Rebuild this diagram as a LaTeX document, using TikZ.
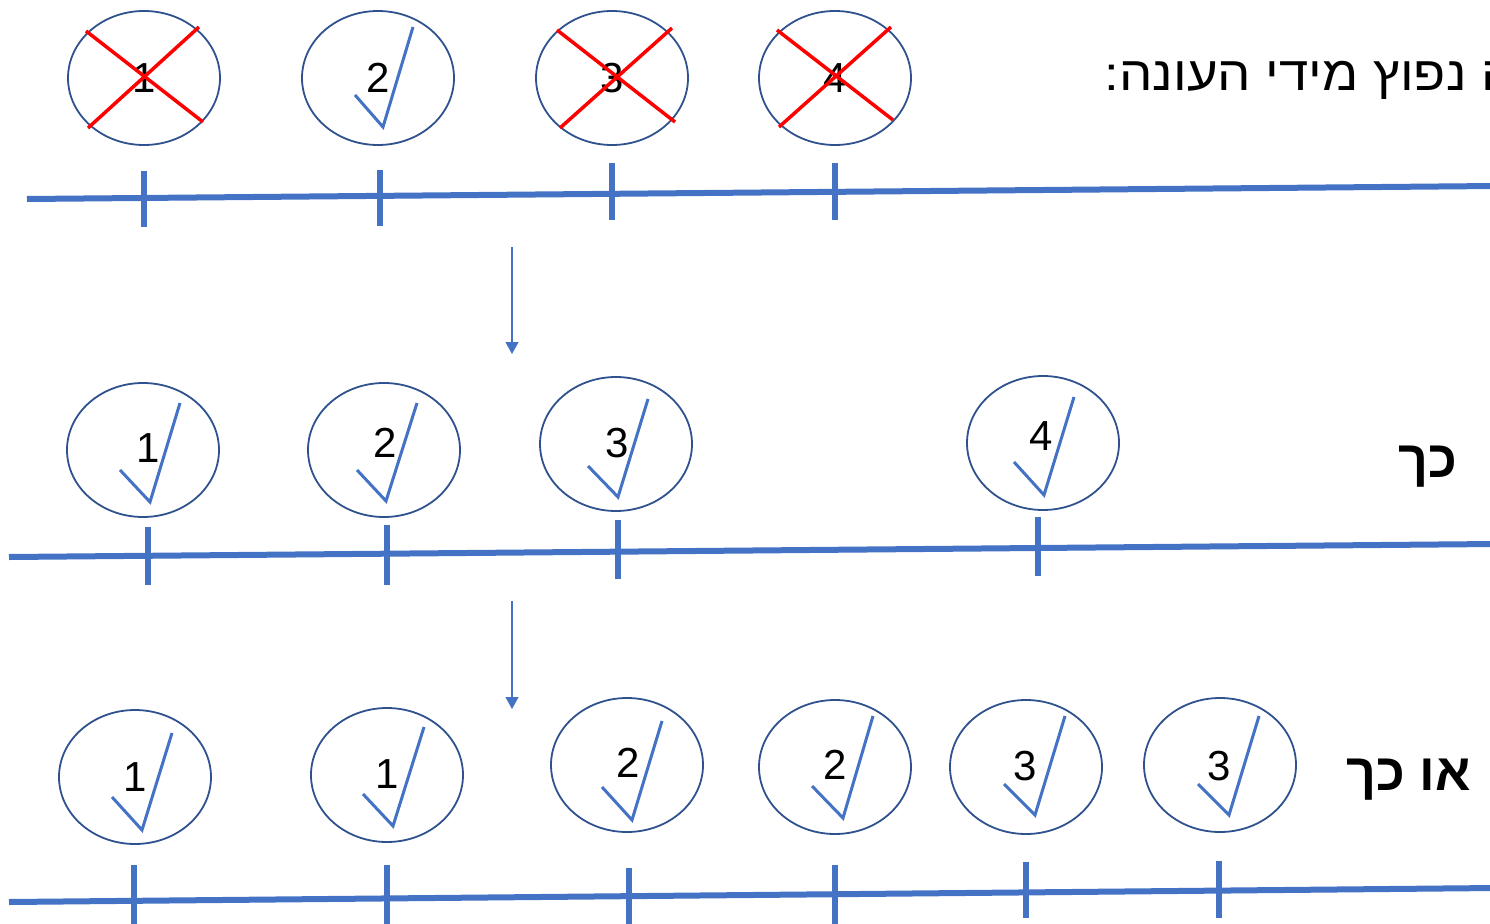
\documentclass[tikz,border=0pt]{standalone}
\usepackage{fontspec}
\setmainfont{Liberation Sans}
\newfontfamily\hebfont[Script=Hebrew]{Liberation Sans}
\newfontfamily\hebwide[Script=Hebrew,FakeStretch=1.1]{Liberation Sans}
\TeXXeTstate=1
\usetikzlibrary{arrows.meta,shapes.geometric}

\definecolor{lineblue}{HTML}{4472C4}
\definecolor{rimblue}{HTML}{2F528F}

\begin{document}
\begin{tikzpicture}[x=1pt, y=-1pt, >={Triangle[width=13pt,length=12pt]},
  axis/.style={lineblue, line width=6pt},
  tick/.style={lineblue, line width=6pt},
  ball/.style={ellipse, draw=rimblue, line width=1.8pt, minimum width=152pt, minimum height=134pt, inner sep=0pt},
  okmark/.style={lineblue, line width=3pt},
  cross/.style={red, line width=3.5pt},
  num/.style={font=\fontsize{42}{42}\selectfont, inner sep=0pt},
  heb/.style={font=\hebwide\fontsize{48}{48}\selectfont, inner sep=0pt},
  hebbold/.style={font=\hebfont\bfseries\fontsize{52}{52}\selectfont, inner sep=0pt}]
  \clip (0,0) rectangle (1490,923);

  % Row 1
  \draw[axis] (27,199) -- (1495,186);
  \draw[tick] (144,171) -- (144,227);
  \draw[tick] (380,170) -- (380,226);
  \draw[tick] (612,163) -- (612,220);
  \draw[tick] (835,163) -- (835,220);
  \node[ball] (a1) at (144,78) {};
  \node[ball] (a2) at (378,78) {};
  \node[ball] (a3) at (612,78) {};
  \node[ball] (a4) at (835,78) {};
  \node[num] (na1) at (144,78) {1};
  \node[num] (na2) at (378,78) {2};
  \node[num] (na3) at (612,78) {3};
  \node[num] (na4) at (835,78) {4};
  \draw[okmark] (355,95) -- (383,127) -- (413,27);
  \draw[cross] (86,31) -- (203,122);
  \draw[cross] (88,128) -- (199,27);
  \draw[cross] (557,30) -- (675,122);
  \draw[cross] (560,128) -- (672,28);
  \draw[cross] (777,30) -- (893,120);
  \draw[cross] (779,127) -- (891,27);
  \node[heb, anchor=east] (title) at (1515,80) {\beginR ה נפוץ מידי העונה{}:\endR};

  % Arrows
  \coordinate (s1) at (512,247);
  \coordinate (e1) at (512,354);
  \coordinate (s2) at (512,601);
  \coordinate (e2) at (512,709);
  \draw[->, lineblue, line width=1.3pt] (s1) -- (e1);
  \draw[->, lineblue, line width=1.3pt] (s2) -- (e2);

  % Row 2
  \draw[axis] (9,557) -- (1495,544);
  \draw[tick] (148,527) -- (148,585);
  \draw[tick] (387,525) -- (387,585);
  \draw[tick] (618,520) -- (618,579);
  \draw[tick] (1038,517) -- (1038,576);
  \node[ball] (b1) at (143,450) {};
  \node[ball] (b2) at (384,450) {};
  \node[ball] (b3) at (616,444) {};
  \node[ball] (b4) at (1043,443) {};
  \node[num] (nb1) at (148,448) {1};
  \node[num] (nb2) at (385,443) {2};
  \node[num] (nb3) at (617,443) {3};
  \node[num] (nb4) at (1041,436) {4};
  \draw[okmark] (120,470) -- (150,502) -- (180,403);
  \draw[okmark] (357,470) -- (386,501) -- (417,403);
  \draw[okmark] (588,466) -- (618,497) -- (648,399);
  \draw[okmark] (1014,462) -- (1044,495) -- (1074,397);
  \node[hebbold] (so) at (1428,467) {\beginR כך\endR};

  % Row 3
  \draw[axis] (9,902) -- (1495,888);
  \draw[tick] (134,865) -- (134,925);
  \draw[tick] (387,865) -- (387,925);
  \draw[tick] (629,868) -- (629,925);
  \draw[tick] (835,865) -- (835,925);
  \draw[tick] (1026,862) -- (1026,918);
  \draw[tick] (1219,861) -- (1219,918);
  \node[ball] (c1) at (135,777) {};
  \node[ball] (c2) at (387,775) {};
  \node[ball] (c3) at (627,765) {};
  \node[ball] (c4) at (835,767) {};
  \node[ball] (c5) at (1026,767) {};
  \node[ball] (c6) at (1220,765) {};
  \node[num] (nc1) at (135,777) {1};
  \node[num] (nc2) at (387,774) {1};
  \node[num] (nc3) at (628,763) {2};
  \node[num] (nc4) at (835,765) {2};
  \node[num] (nc5) at (1025,766) {3};
  \node[num] (nc6) at (1219,766) {3};
  \draw[okmark] (112,797) -- (142,830) -- (172,733);
  \draw[okmark] (363,794) -- (393,826) -- (424,727);
  \draw[okmark] (602,787) -- (632,820) -- (662,721);
  \draw[okmark] (812,786) -- (843,818) -- (873,716);
  \draw[okmark] (1004,784) -- (1035,815) -- (1065,716);
  \draw[okmark] (1198,784) -- (1229,815) -- (1259,716);
  \node[hebbold] (orso) at (1409,780) {\beginR או כך\endR};
\end{tikzpicture}
\end{document}
